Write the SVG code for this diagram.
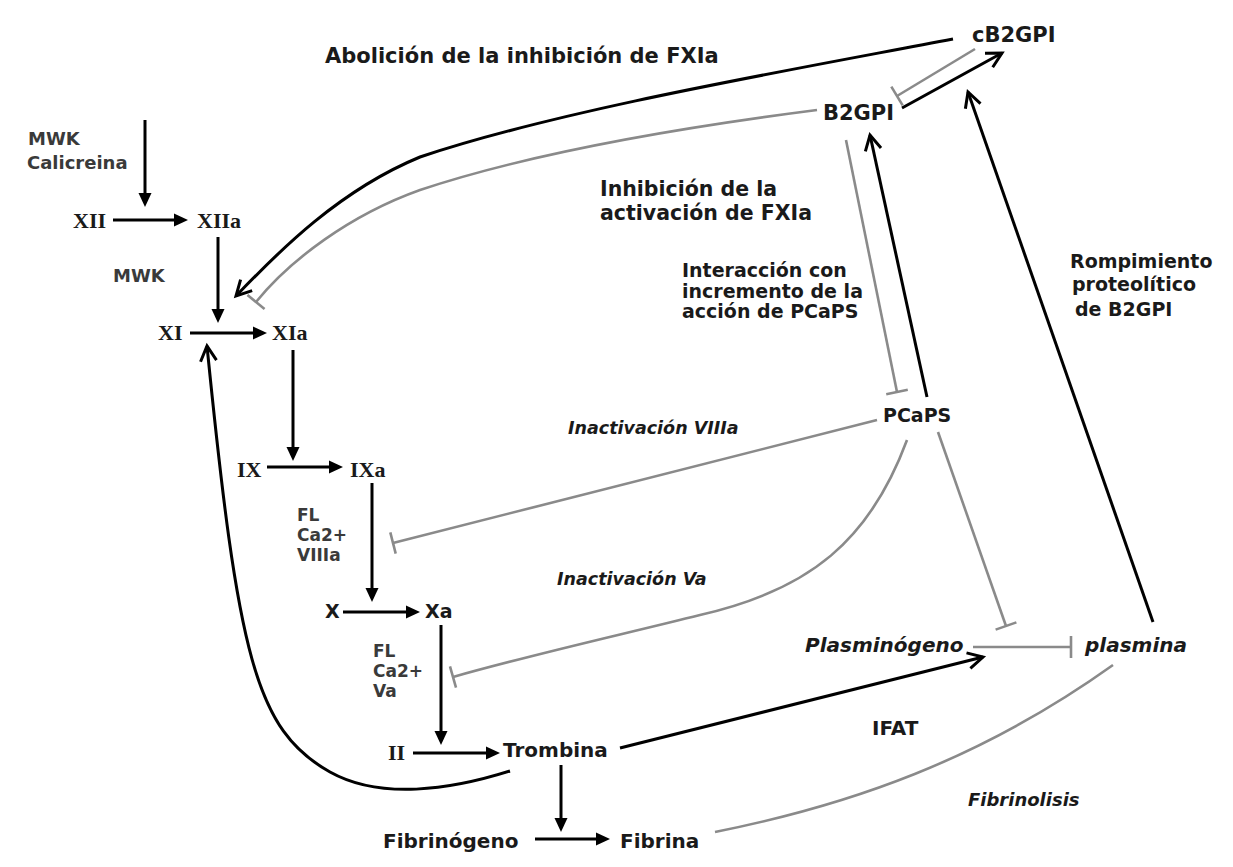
<svg xmlns="http://www.w3.org/2000/svg" width="1233" height="867" viewBox="0 0 1233 867">
<style>
  .t { font-family: "DejaVu Sans", Verdana, sans-serif; font-weight: bold; fill: #1a1a1a; }
  .s { font-family: "Liberation Serif", "Times New Roman", serif; font-weight: bold; fill: #1a1a1a; font-size: 22px; }
  .g { fill: #3a3a3a; }
  .i { font-style: italic; }
  .blk { fill: none; stroke: #000; stroke-width: 3; }
  .casc { fill: none; stroke: #000; stroke-width: 3; marker-end: url(#fill); }
  .open { fill: none; stroke: #000; stroke-width: 3; marker-end: url(#open); }
  .inh { fill: none; stroke: #8a8a8a; stroke-width: 2.6; marker-end: url(#tbar); }
  .gray { fill: none; stroke: #8a8a8a; stroke-width: 2.6; }
</style>
<defs>
  <marker id="fill" viewBox="-24 -10 26 20" refX="-8" refY="0" markerWidth="26" markerHeight="20" markerUnits="userSpaceOnUse" orient="auto">
    <path d="M-14,-6.5 L0,0 L-14,6.5 Z" fill="#000"/>
  </marker>
  <marker id="open" viewBox="-20 -12 24 24" refX="0" refY="0" markerWidth="24" markerHeight="24" markerUnits="userSpaceOnUse" orient="auto">
    <path d="M-15,-8 L0,0 L-15,8" fill="none" stroke="#000" stroke-width="3"/>
  </marker>
  <marker id="tbar" viewBox="-3 -13 6 26" refX="0" refY="0" markerWidth="6" markerHeight="26" markerUnits="userSpaceOnUse" orient="auto">
    <path d="M0,-11 L0,11" stroke="#8a8a8a" stroke-width="2.6"/>
  </marker>
</defs>
<rect width="1233" height="867" fill="#ffffff"/>

<g id="connectors">
  <path class="casc" d="M145,120 V199"/>
  <path class="casc" d="M113,220 H180"/>
  <path class="casc" d="M218,237 V315"/>
  <path class="casc" d="M190,333 H259"/>
  <path class="casc" d="M293,350 V453"/>
  <path class="casc" d="M267,467 H335"/>
  <path class="casc" d="M372,483 V594"/>
  <path class="casc" d="M343,612 H412"/>
  <path class="casc" d="M441,625 V737"/>
  <path class="casc" d="M413,753 H492"/>
  <path class="casc" d="M561,765 V824"/>
  <path class="casc" d="M535,839 H602"/>

  <path class="open" d="M953,39 C780,72 560,110 420,157 C340,190 280,250 236,296"/>
  <path class="open" d="M902,108 L1002,53"/>
  <path class="open" d="M927,397 L870,135"/>
  <path class="open" d="M1153,622 L968,92"/>
  <path class="open" d="M620,748 L983,657"/>
  <path class="open" d="M510,771 C450,790 380,800 330,772 C255,730 238,655 207,346"/>

  <path class="inh" d="M817,110 C700,125 540,150 420,190 C350,215 290,260 256,302"/>
  <path class="inh" d="M975,49 L897,96"/>
  <path class="inh" d="M846,140 L897,392"/>
  <path class="inh" d="M877,420 L393,543"/>
  <path class="inh" d="M907,440 C870,540 810,590 700,615 C620,635 530,655 453,677"/>
  <path class="inh" d="M938,432 L1006,626"/>
  <path class="inh" d="M973,647 L1071,647"/>
  <path class="gray" d="M715,832 C850,805 980,760 1113,665"/>
</g>

<g id="label-abolicion"><text class="t" x="325" y="63" font-size="21">Abolición de la inhibición de FXIa</text></g>
<g id="node-cB2GPI"><text class="t" x="972" y="42" font-size="21">cB2GPI</text></g>
<g id="node-B2GPI"><text class="t" x="823" y="120" font-size="21">B2GPI</text></g>
<g id="label-inhibicion"><text class="t" x="600" y="196" font-size="20.5">Inhibición de la</text><text class="t" x="600" y="220" font-size="20.5">activación de FXIa</text></g>
<g id="label-interaccion"><text class="t" x="682" y="277" font-size="19">Interacción con</text><text class="t" x="682" y="298" font-size="19">incremento de la</text><text class="t" x="682" y="318" font-size="19">acción de PCaPS</text></g>
<g id="label-rompimiento"><text class="t" x="1070" y="268" font-size="19">Rompimiento</text><text class="t" x="1072" y="291" font-size="19">proteolítico</text><text class="t" x="1075" y="316" font-size="19">de B2GPI</text></g>

<g id="label-mwk-calicreina"><text class="t g" x="28" y="145" font-size="18">MWK</text><text class="t g" x="27" y="169" font-size="18">Calicreina</text></g>
<g id="node-XII"><text class="s" x="73" y="228">XII</text></g>
<g id="node-XIIa"><text class="s" x="197" y="228">XIIa</text></g>
<g id="label-mwk"><text class="t g" x="113" y="282" font-size="18">MWK</text></g>
<g id="node-XI"><text class="s" x="158" y="340">XI</text></g>
<g id="node-XIa"><text class="s" x="272" y="340">XIa</text></g>
<g id="node-IX"><text class="s" x="237" y="477">IX</text></g>
<g id="node-IXa"><text class="s" x="350" y="477">IXa</text></g>
<g id="label-cof1"><text class="t g" x="297" y="521" font-size="17">FL</text><text class="t g" x="297" y="541" font-size="17">Ca2+</text><text class="t g" x="297" y="561" font-size="17">VIIIa</text></g>
<g id="node-X"><text class="t" x="325" y="618" font-size="19">X</text></g>
<g id="node-Xa"><text class="t" x="425" y="618" font-size="19">Xa</text></g>
<g id="label-cof2"><text class="t g" x="373" y="657" font-size="17">FL</text><text class="t g" x="373" y="677" font-size="17">Ca2+</text><text class="t g" x="373" y="697" font-size="17">Va</text></g>
<g id="node-II"><text class="s" x="388" y="760">II</text></g>
<g id="node-trombina"><text class="t" x="503" y="757" font-size="20">Trombina</text></g>
<g id="node-fibrinogeno"><text class="t" x="383" y="848" font-size="20">Fibrinógeno</text></g>
<g id="node-fibrina"><text class="t" x="620" y="848" font-size="20">Fibrina</text></g>

<g id="node-PCaPS"><text class="t" x="883" y="422" font-size="19">PCaPS</text></g>
<g id="label-inact-viiia"><text class="t i" x="568" y="434" font-size="17.5">Inactivación VIIIa</text></g>
<g id="label-inact-va"><text class="t i" x="557" y="585" font-size="17.5">Inactivación Va</text></g>
<g id="node-plasminogeno"><text class="t i" x="805" y="652" font-size="20">Plasminógeno</text></g>
<g id="node-plasmina"><text class="t i" x="1085" y="652" font-size="20">plasmina</text></g>
<g id="label-ifat"><text class="t" x="872" y="735" font-size="20">IFAT</text></g>
<g id="label-fibrinolisis"><text class="t i" x="968" y="806" font-size="18">Fibrinolisis</text></g>
</svg>
